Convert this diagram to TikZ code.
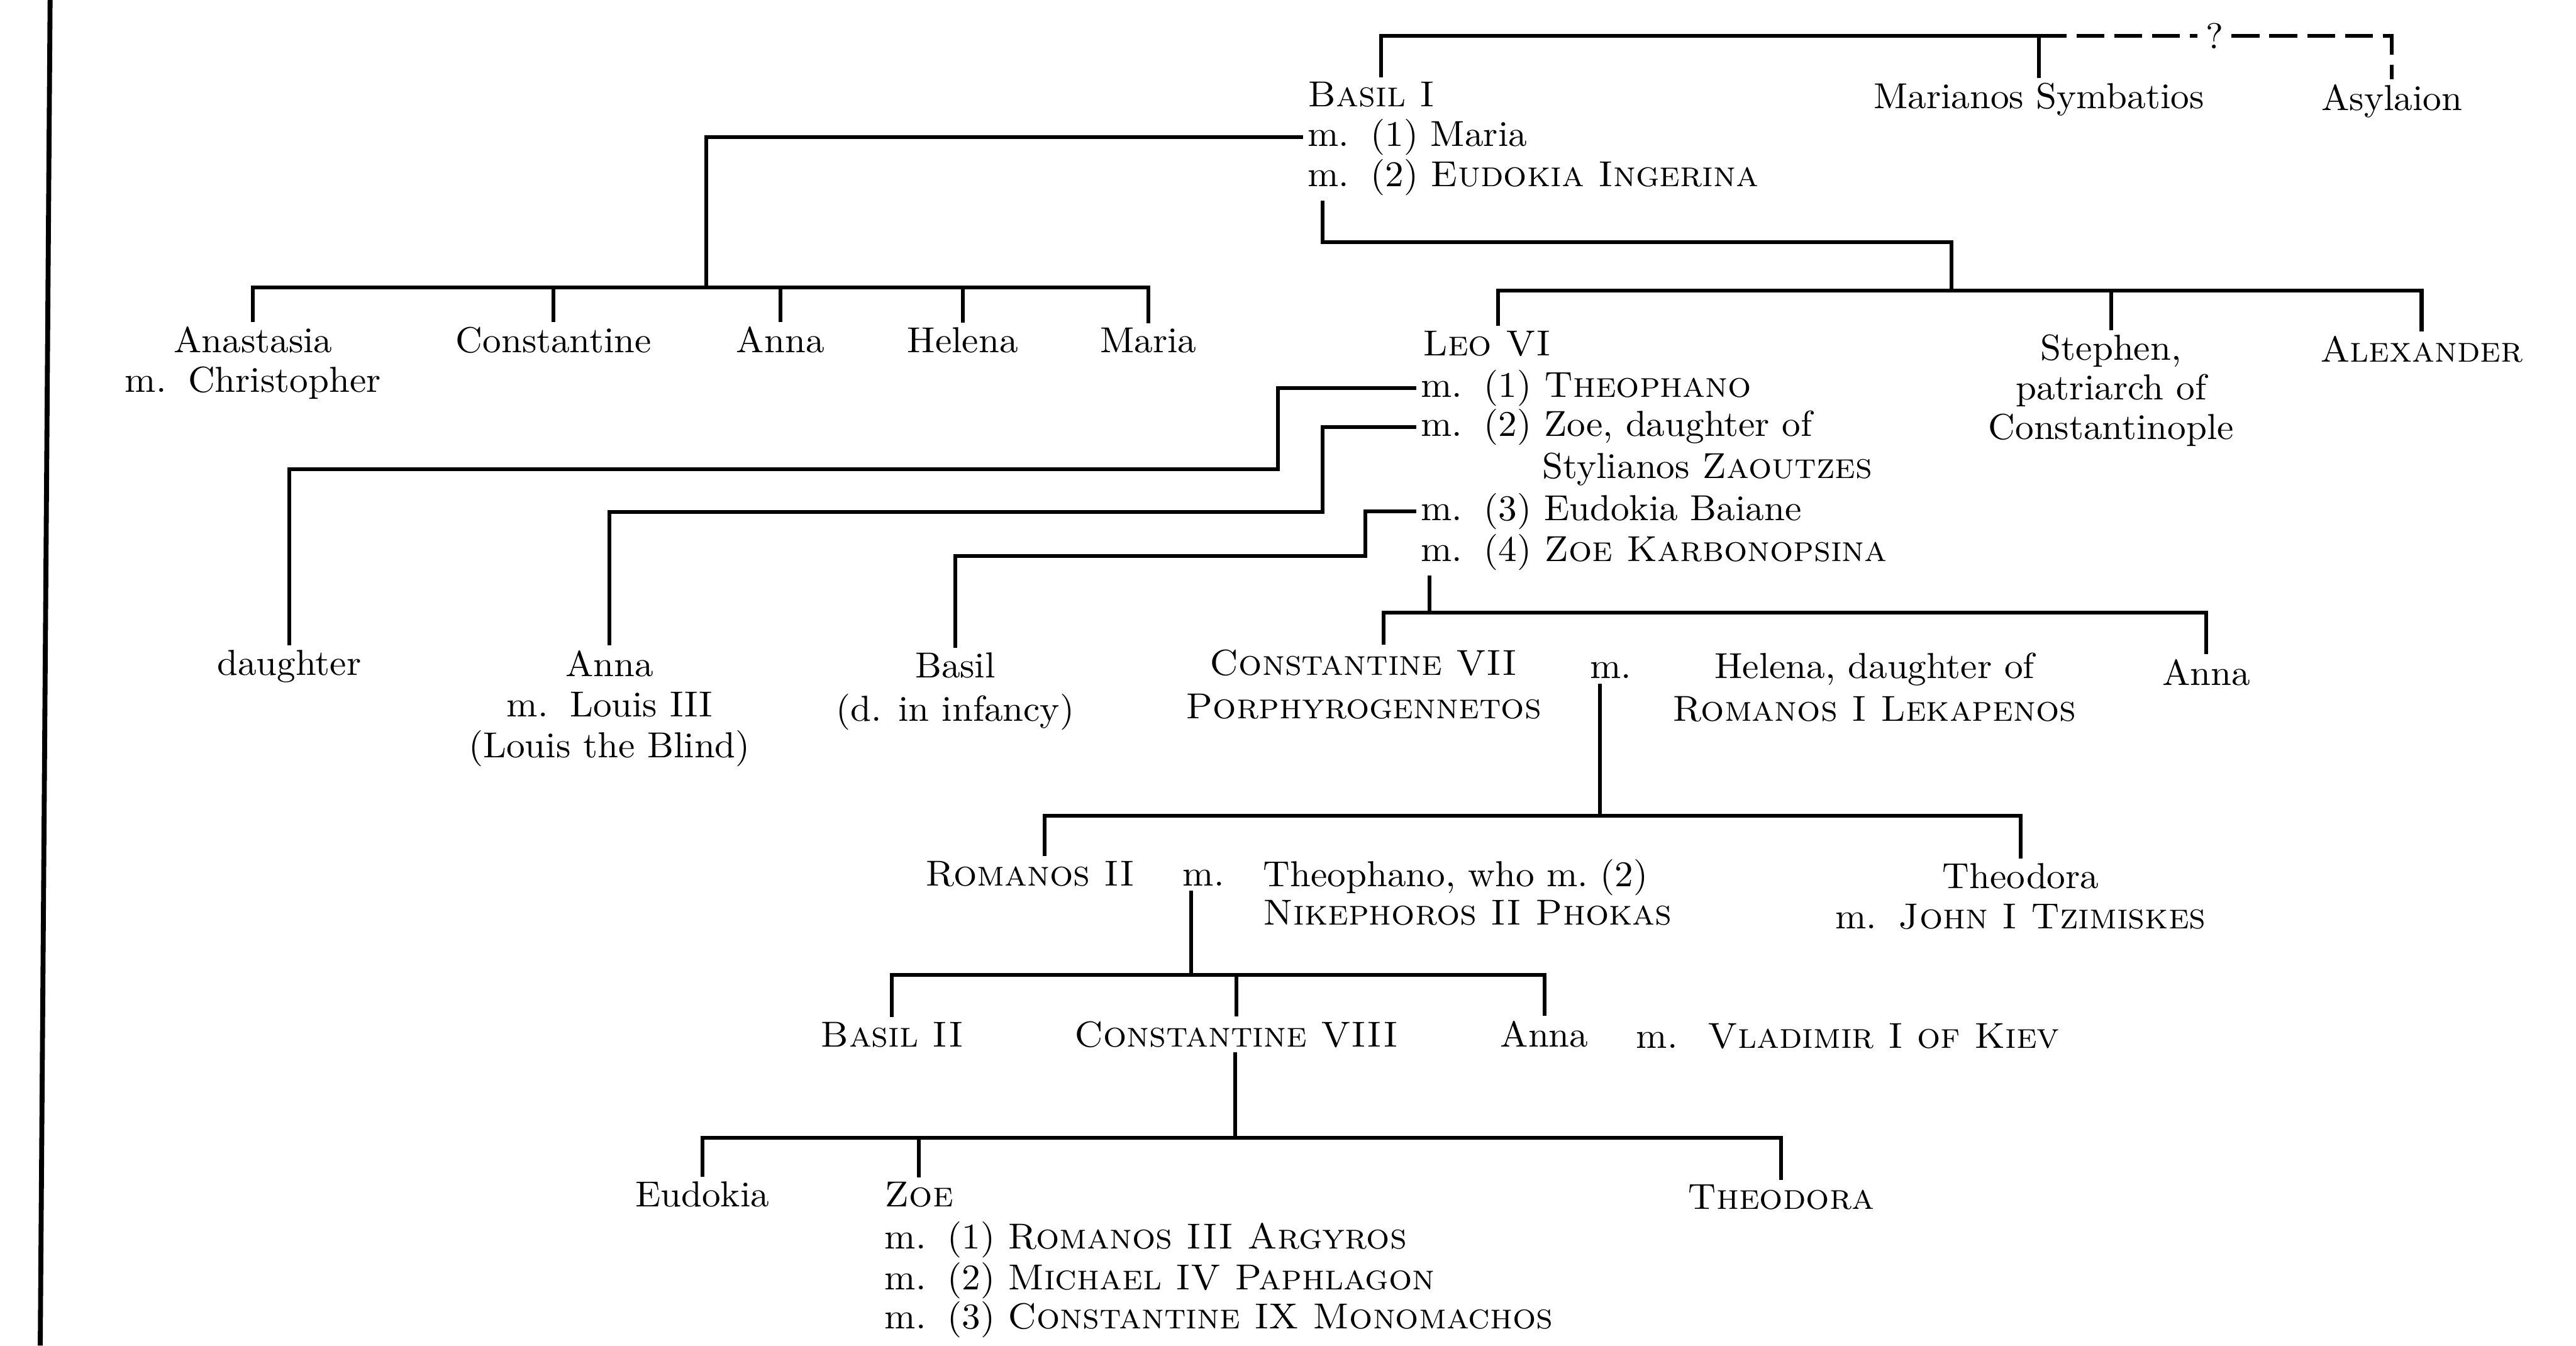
\documentclass[tikz,border=0pt]{standalone}
\usepackage{fontspec}
\setmainfont{lmroman10-regular.otf}[FakeStretch=1.03, SmallCapsFont=lmromancaps10-regular.otf, SmallCapsFeatures={FakeStretch=1.02}]
\newcommand{\mgap}{\hspace{0.6em}}
\begin{document}
\begin{tikzpicture}[x=1pt,y=-1pt,
  every node/.style={inner sep=0pt, outer sep=3pt, font=\fontsize{22}{25}\selectfont},
  ln/.style={line width=2.3pt, line join=miter},
  dln/.style={line width=2.3pt, dash pattern=on 17pt off 6pt},
  lb/.style={anchor=base west},
  cb/.style={anchor=base, align=center},
]
\useasboundingbox (0,0) rectangle (1568,819);
% page border line
\coordinate (bt) at (30.5,0);
\coordinate (bb) at (24.5,819);
\draw[line width=3pt] (bt) -- (bb);

% generation 0
\node[lb] (basil) at (793,65) {\textsc{Basil I}};
\node[lb] (basilma) at (793,89) {m.\mgap(1) Maria};
\node[lb] (basilmb) at (793,113.6) {m.\mgap(2) \textsc{Eudokia Ingerina}};
\node[cb] (marianos) at (1241,66) {Marianos Symbatios};
\node[cb] (asylaion) at (1456,67) {Asylaion};
\node[anchor=base, fill=white, inner sep=2pt] (q) at (1348,29.8) {?};

% generation 1 (first marriage); multi-line nodes are placed by their last baseline
\node[cb, font=\fontsize{22}{24.1}\selectfont] (anastasia) at (154,238.7) {Anastasia\\m.\mgap Christopher};
\node[cb] (constantineA) at (337,214.6) {Constantine};
\node[cb] (annaA) at (475,214.6) {Anna};
\node[cb] (helenaA) at (586,214.6) {Helena};
\node[cb] (mariaA) at (699,214.6) {Maria};

% generation 1 (second marriage)
\node[lb] (leo) at (863,216.3) {\textsc{Leo VI}};
\node[lb] (leom1) at (862,241.6) {m.\mgap(1) \textsc{Theophano}};
\node[lb] (leom2) at (862,265.4) {m.\mgap(2) Zoe, daughter of};
\node[lb] (stylianos) at (936,291) {Stylianos \textsc{Zaoutzes}};
\node[lb] (leom3) at (862,316.6) {m.\mgap(3) Eudokia Baiane};
\node[lb] (leom4) at (862,341.8) {m.\mgap(4) \textsc{Zoe Karbonopsina}};
\node[cb, font=\fontsize{22}{24.1}\selectfont] (stephen) at (1285,267.5) {Stephen,\\patriarch of\\Constantinople};
\node[cb] (alexander) at (1474,220.4) {\textsc{Alexander}};

% generation 2
\node[cb] (daughter) at (176,411) {daughter};
\node[cb, font=\fontsize{22}{24.7}\selectfont] (annaL) at (371,461) {Anna\\m.\mgap Louis III\\(Louis the Blind)};
\node[cb, font=\fontsize{22}{26.3}\selectfont] (basilinf) at (581.5,438.7) {Basil\\(d. in infancy)};
\node[cb, font=\fontsize{22}{26.5}\selectfont] (c7) at (830,437.5) {\textsc{Constantine VII}\\\textsc{Porphyrogennetos}};
\node[lb] (m7) at (965,413) {m.};
\node[cb, font=\fontsize{22}{26}\selectfont] (helena) at (1141,439) {Helena, daughter of\\\textsc{Romanos I Lekapenos}};
\node[cb] (annaR) at (1343,417) {Anna};

% generation 3
\node[cb] (romanos2) at (627,539) {\textsc{Romanos II}};
\node[lb] (m2) at (717,539) {m.};
\node[lb, align=left, font=\fontsize{22}{23.5}\selectfont] (theophano) at (766,563) {Theophano, who m.~(2)\\\textsc{Nikephoros II Phokas}};
\node[cb, font=\fontsize{22}{24.5}\selectfont] (theodora1) at (1230,565.3) {Theodora\\m.\mgap\textsc{John I Tzimiskes}};

% generation 4
\node[cb] (basil2) at (543,637) {\textsc{Basil II}};
\node[cb] (c8) at (752.5,637) {\textsc{Constantine VIII}};
\node[cb] (annaV) at (940,637) {Anna};
\node[lb] (m3) at (993,638) {m.};
\node[lb] (vladimir) at (1036.5,638) {\textsc{Vladimir I of Kiev}};

% generation 5
\node[cb] (eudokia) at (427.5,734.5) {Eudokia};
\node[lb] (zoe) at (535.5,734.6) {\textsc{Zoe}};
\node[cb] (theodora2) at (1084,736) {\textsc{Theodora}};
\node[lb] (zoem1) at (535.5,760) {m.\mgap(1) \textsc{Romanos III Argyros}};
\node[lb] (zoem2) at (535.5,785) {m.\mgap(2) \textsc{Michael IV Paphlagon}};
\node[lb] (zoem3) at (535.5,808.5) {m.\mgap(3) \textsc{Constantine IX Monomachos}};

% ---- connectors ----
\coordinate (topbar) at (0,22);
\draw[ln] ([xshift=6pt]basil.north) -- ([xshift=6pt]basil.north |- topbar) -- (marianos.north |- topbar) -- (marianos.north);
\draw[dln] (marianos.north |- topbar) -- (q.west |- topbar);
\draw[dln] (q.east |- topbar) -- (asylaion.north |- topbar) -- (asylaion.north);

\coordinate (b1) at (430,175);
\draw[ln] (basilma.west) -| (b1);
\foreach \n in {anastasia,constantineA,annaA,helenaA,mariaA}
  \draw[ln] (b1) -| (\n.north);

\coordinate (b2a) at (805,147.5);
\coordinate (b2b) at (1188,147.5);
\coordinate (b3) at (1188,177);
\draw[ln] (basilmb.south west -| b2a) -- (b2a) -- (b2b) -- (b3);
\draw[ln] (b3) -| ([xshift=7pt]leo.north);
\draw[ln] (b3) -| (stephen.north);
\draw[ln] (b3) -| (alexander.north);

\coordinate (w1) at (778,285.5);
\coordinate (w2) at (805,311.5);
\coordinate (w3) at (831,338.5);
\draw[ln] (leom1.west) -| (w1) -| (daughter.north);
\draw[ln] (leom2.west) -| (w2) -| (annaL.north);
\draw[ln] (leom3.west) -| (w3) -| (basilinf.north);

\coordinate (b4) at (870,373);
\draw[ln] (leom4.south west -| b4) -- (b4);
\draw[ln] (b4) -| ([xshift=12pt]c7.north);
\draw[ln] (b4) -| (annaR.north);

\coordinate (b5) at (974,496.5);
\draw[ln] (m7.south -| b5) -- (b5);
\draw[ln] (b5) -| ([xshift=9pt]romanos2.north);
\draw[ln] (b5) -| (theodora1.north);

\coordinate (b6) at (725,593.5);
\draw[ln] (m2.south -| b6) -- (b6);
\draw[ln] (b6) -| (basil2.north);
\draw[ln] (b6) -| (c8.north);
\draw[ln] (b6) -| (annaV.north);

\coordinate (b7) at (752,692.5);
\draw[ln] (c8.south -| b7) -- (b7);
\draw[ln] (b7) -| (eudokia.north);
\draw[ln] (b7) -| (zoe.north);
\draw[ln] (b7) -| (theodora2.north);
\end{tikzpicture}
\end{document}
